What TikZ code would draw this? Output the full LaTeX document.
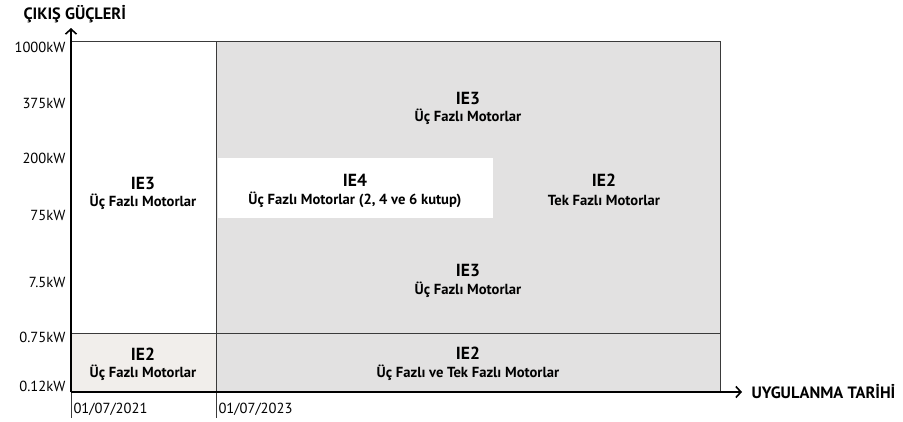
\documentclass[tikz,border=0pt]{standalone}
\usepackage{fontspec}
\setmainfont{PT Sans}
\usetikzlibrary{arrows.meta}
\definecolor{gray}{HTML}{E2E1E1}
\definecolor{beige}{HTML}{F1EEEB}
\definecolor{line}{HTML}{3A3A3A}

\tikzset{
  ylab/.style={anchor=east, font=\fontsize{14.6}{14.6}\selectfont},
  xlab/.style={anchor=west, font=\fontsize{14.6}{14.6}\selectfont},
  cls/.style={font=\bfseries\fontsize{17.5}{17.5}\selectfont},
  sub/.style={font=\bfseries\fontsize{14.6}{14.6}\selectfont},
  title/.style={anchor=west, font=\bfseries\fontsize{16.4}{16.4}\selectfont},
  axis/.style={draw=black, line width=1.6pt, -{Straight Barb[length=5pt, width=11pt, line width=1.6pt]}}
}

\begin{document}
\begin{tikzpicture}[x=1pt, y=-1pt]
	\useasboundingbox (0,0) rectangle (903,421);
	
	% areas
	\fill[gray] (216,41) rectangle (720,392);
	\fill[beige] (71,333) rectangle (216,392);
	\fill[white] (218,158) rectangle (493,218);
	
	% grid
	\draw[line, thick] (71,41) -- (720,41) -- (720,392);
	\draw[line, thick] (71,333) -- (720,333);
	\draw[line, thick] (216,41) -- (216,418);
	\draw[line, thick] (71,392) -- (71,418);
	
	% axes
	\coordinate (o) at (71,392);
	\coordinate (ytop) at (71,28);
	\coordinate (xend) at (742,392);
	\draw[axis] (o) -- (ytop);
	\draw[axis] (o) -- (xend);
	\node[title] (ytitle) at (20,14) {ÇIKIŞ GÜÇLERİ};
	\node[title] (xtitle) at (748,392) {UYGULANMA TARİHİ};
	
	% power labels
	\node[ylab] (p1) at (69,47) {1000kW};
	\node[ylab] (p2) at (69,103) {375kW};
	\node[ylab] (p3) at (69,158) {200kW};
	\node[ylab] (p4) at (69,215) {75kW};
	\node[ylab] (p5) at (69,282) {7.5kW};
	\node[ylab] (p6) at (69,337) {0.75kW};
	\node[ylab] (p7) at (69,386) {0.12kW};
	
	% dates
	\node[xlab] (d1) at (70,409) {01/07/2021};
	\node[xlab] (d2) at (215,409) {01/07/2023};
	
	% classes
	\node[cls] (a1) at (143,183) {IE3};
	\node[sub] (a2) at (143,202) {Üç Fazlı Motorlar};
	\node[cls] (b1) at (143,354) {IE2};
	\node[sub] (b2) at (143,373) {Üç Fazlı Motorlar};
	\node[cls] (c1) at (468,98) {IE3};
	\node[sub] (c2) at (468,117) {Üç Fazlı Motorlar};
	\node[cls] (e1) at (355,180) {IE4};
	\node[sub] (e2) at (355,200) {Üç Fazlı Motorlar (2, 4 ve 6 kutup)};
	\node[cls] (f1) at (604,180) {IE2};
	\node[sub] (f2) at (604,200) {Tek Fazlı Motorlar};
	\node[cls] (g1) at (468,270) {IE3};
	\node[sub] (g2) at (468,290) {Üç Fazlı Motorlar};
	\node[cls] (h1) at (468,353) {IE2};
	\node[sub] (h2) at (468,373) {Üç Fazlı ve Tek Fazlı Motorlar};
	
\end{tikzpicture}
\end{document}
